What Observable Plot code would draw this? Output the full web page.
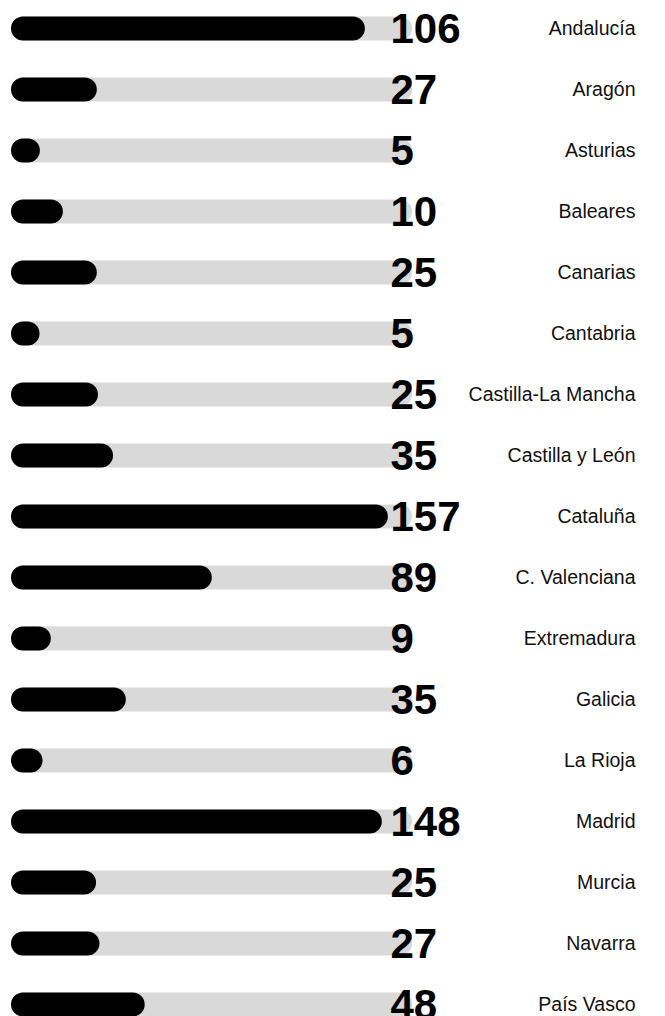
<!DOCTYPE html>
<html>
<head>
<meta charset="utf-8">
<script src="https://cdn.jsdelivr.net/npm/d3@7"></script>
<script src="https://cdn.jsdelivr.net/npm/@observablehq/plot@0.6"></script>
<style>
  body { margin: 0; background: #fff; }
  #chart svg { overflow: visible; }
</style>
</head>
<body>
<div id="chart"></div>
<script>
const regions = ["Andalucía","Aragón","Asturias","Baleares","Canarias","Cantabria","Castilla-La Mancha","Castilla y León","Cataluña","C. Valenciana","Extremadura","Galicia","La Rioja","Madrid","Murcia","Navarra","País Vasco"];
const counts = [106,27,5,10,25,5,25,35,157,89,9,35,6,148,25,27,48];
const barShares = [87.5,16.4,1.3,7.4,16.4,1.2,16.7,20.7,93.6,46.9,4.2,24.1,2.0,92.0,16.2,17.1,29.1];
const trackMax = 100;

const data = regions.map((r, i) => ({region: r, count: counts[i], share: barShares[i]}));

const chart = Plot.plot({
  width: 665,
  height: 1016,
  marginTop: 27,
  marginBottom: 12,
  marginLeft: 23,
  marginRight: 265,
  style: {fontFamily: "'Liberation Sans', Arial, Helvetica, sans-serif", background: "#fff"},
  x: {domain: [0, trackMax], axis: null},
  y: {type: "point", domain: regions, padding: 0, axis: null},
  marks: [
    Plot.ruleY(data, {y: "region", x1: () => 0, x2: () => trackMax, stroke: "#d9d9d9", strokeWidth: 24, strokeLinecap: "round"}),
    Plot.ruleY(data, {y: "region", x1: () => 0, x2: "share", stroke: "#000", strokeWidth: 24, strokeLinecap: "round"}),
    Plot.text(data, {y: "region", text: d => String(d.count), frameAnchor: "right", textAnchor: "start", dx: -10, dy: 1.5, fontSize: 42, fontWeight: "bold", fill: "#000"}),
    Plot.text(data, {y: "region", text: "region", frameAnchor: "right", textAnchor: "end", dx: 235, fontSize: 19.5, fill: "#111"})
  ]
});
document.getElementById("chart").appendChild(chart);
</script>
</body>
</html>
